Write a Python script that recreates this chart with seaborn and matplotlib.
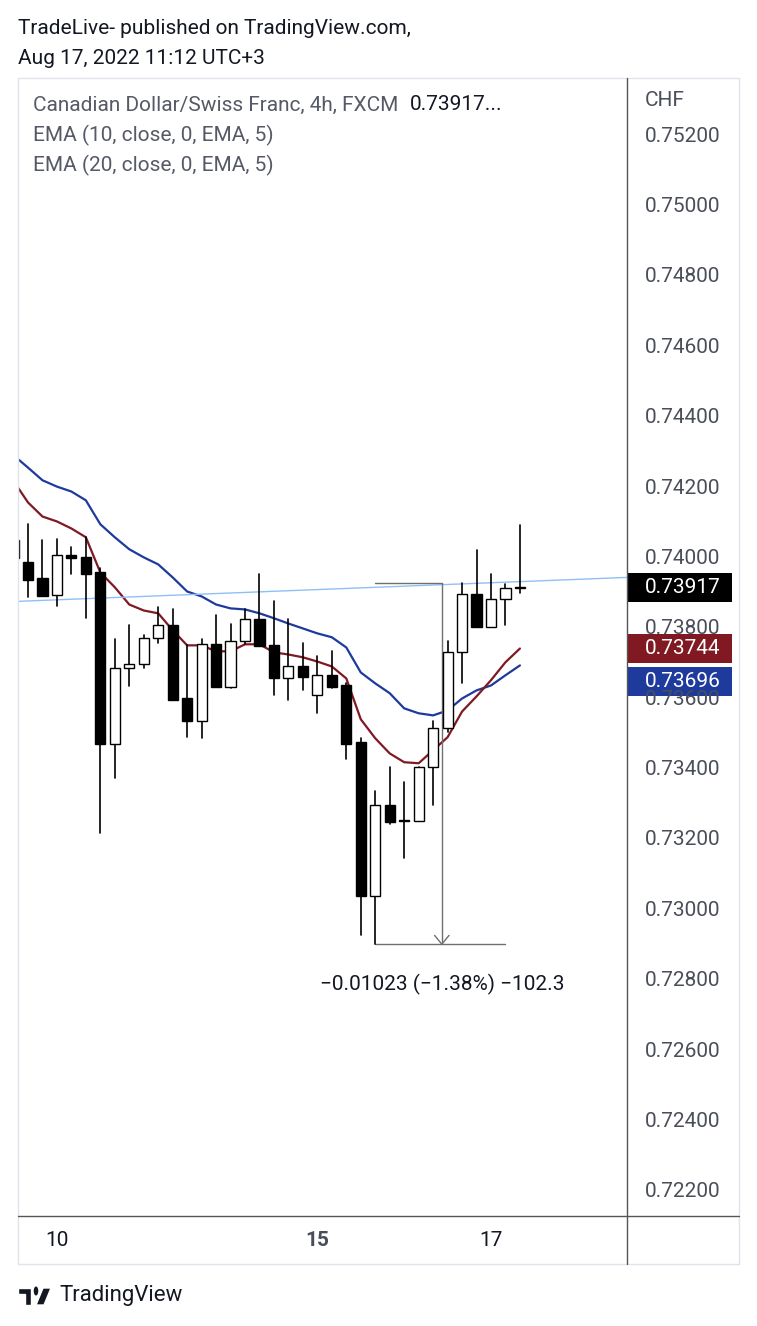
import numpy as np
import pandas as pd
import matplotlib
matplotlib.use("Agg")
import matplotlib.pyplot as plt
from matplotlib.lines import Line2D
from matplotlib.patches import Rectangle, Polygon, Circle
import seaborn as sns

sns.set_style("white")
plt.rcParams["font.family"] = "Roboto"

opens = [0.74051, 0.73991, 0.73943, 0.73895, 0.74011, 0.74003, 0.73960, 0.73472, 0.73688, 0.73699,
         0.73773, 0.73812, 0.73602, 0.73537, 0.73756, 0.73634, 0.73764, 0.73827, 0.73753, 0.73659,
         0.73693, 0.73611, 0.73668, 0.73639, 0.73477, 0.73040, 0.73299, 0.73256, 0.73253, 0.73406,
         0.73517, 0.73733, 0.73898, 0.73804, 0.73884, 0.73918]
highs = [0.74060, 0.74097, 0.74051, 0.74054, 0.74031, 0.74060, 0.73972, 0.73770, 0.73812, 0.73781,
         0.73861, 0.73855, 0.73753, 0.73770, 0.73838, 0.73815, 0.73855, 0.73955, 0.73878, 0.73827,
         0.73759, 0.73722, 0.73736, 0.73645, 0.73489, 0.73338, 0.73406, 0.73364, 0.73406, 0.73537,
         0.73764, 0.73929, 0.74023, 0.73955, 0.73926, 0.74094]
lows = [0.73989, 0.73889, 0.73892, 0.73864, 0.73957, 0.73832, 0.73219, 0.73375, 0.73638, 0.73688,
        0.73761, 0.73599, 0.73494, 0.73489, 0.73634, 0.73631, 0.73756, 0.73750, 0.73611, 0.73599,
        0.73625, 0.73562, 0.73631, 0.73429, 0.72931, 0.72905, 0.73245, 0.73148, 0.73253, 0.73299,
        0.73506, 0.73645, 0.73804, 0.73804, 0.73812, 0.73901]
closes = [0.74000, 0.73940, 0.73892, 0.74011, 0.74000, 0.73957, 0.73472, 0.73688, 0.73699, 0.73773,
          0.73812, 0.73599, 0.73537, 0.73756, 0.73634, 0.73764, 0.73827, 0.73750, 0.73659, 0.73693,
          0.73662, 0.73668, 0.73636, 0.73474, 0.73040, 0.73299, 0.73250, 0.73253, 0.73406, 0.73517,
          0.73733, 0.73898, 0.73804, 0.73884, 0.73915, 0.73915]
ema10 = [0.74220, 0.74159, 0.74119, 0.74105, 0.74085, 0.74060, 0.73960, 0.73918, 0.73869, 0.73852,
         0.73844, 0.73796, 0.73753, 0.73753, 0.73736, 0.73736, 0.73756, 0.73756, 0.73733, 0.73727,
         0.73719, 0.73707, 0.73693, 0.73659, 0.73543, 0.73489, 0.73446, 0.73421, 0.73418, 0.73455,
         0.73492, 0.73565, 0.73608, 0.73654, 0.73705, 0.73744]
ema20 = [0.74293, 0.74258, 0.74222, 0.74204, 0.74190, 0.74165, 0.74097, 0.74060, 0.74026, 0.74003,
         0.73983, 0.73946, 0.73906, 0.73892, 0.73869, 0.73858, 0.73855, 0.73844, 0.73830, 0.73815,
         0.73801, 0.73787, 0.73776, 0.73747, 0.73676, 0.73645, 0.73617, 0.73574, 0.73560, 0.73554,
         0.73568, 0.73602, 0.73625, 0.73639, 0.73668, 0.73696]
price_ticks = [0.722, 0.724, 0.726, 0.728, 0.730, 0.732, 0.734, 0.736, 0.738, 0.740,
               0.742, 0.744, 0.746, 0.748, 0.750, 0.752]
date_labels = ["10", "15", "17"]
date_pos = [3, 21, 33]
last_price, last_ema10, last_ema20 = 0.73917, 0.73744, 0.73696
trend_line = [(0.31, 0.73878), (42.4, 0.73946)]
measure_top, measure_bottom = 0.73929, 0.72904

W, H = 757, 1326
fig = plt.figure(figsize=(W / 100, H / 100), dpi=100)
ax = fig.add_axes([18 / W, 1 - 1216 / H, 609 / W, 1138 / H])
xmin, xmax = 0.31, 42.4
ymin, ymax = 0.721318, 0.753648
ax.set_xlim(xmin, xmax)
ax.set_ylim(ymin, ymax)

df = pd.DataFrame({"i": np.arange(len(opens)), "ema10": ema10, "ema20": ema20})
sns.lineplot(data=df, x="i", y="ema20", color="#1e3a9c", lw=1.6, ax=ax)
sns.lineplot(data=df, x="i", y="ema10", color="#801922", lw=1.6, ax=ax)

ax.plot([p[0] for p in trend_line], [p[1] for p in trend_line], color="#90bff5", lw=1)

bw = 0.7
for i, (o, h, l, c) in enumerate(zip(opens, highs, lows, closes)):
    ax.plot([i, i], [l, h], color="black", lw=1.2, zorder=3)
    lo, hi = min(o, c), max(o, c)
    ht = max(hi - lo, 0.00002)
    face = "white" if c > o else "black"
    ax.add_patch(Rectangle((i - bw / 2, lo), bw, ht, facecolor=face, edgecolor="black", lw=1, zorder=4))

mc = "#707070"
ax.plot([25, 29.6], [measure_top, measure_top], color=mc, lw=1)
ax.plot([29.6, 29.6], [measure_top, measure_bottom], color=mc, lw=1)
ax.plot([25, 34], [measure_bottom, measure_bottom], color=mc, lw=1)
ax.plot([29.1, 29.6, 30.1], [measure_bottom + 0.00025, measure_bottom, measure_bottom + 0.00025], color=mc, lw=1)
ax.text(29.6, measure_bottom - 0.00113, "−0.01023 (−1.38%) −102.3", ha="center", va="center", fontsize=15, color="#131722")

ax.set_xticks([]); ax.set_yticks([])
for s in ax.spines.values():
    s.set_visible(False)
ax.set_xlabel(""); ax.set_ylabel("")

fs = 15
lg = "#555a66"
fig.text(33 / W, 1 - 105 / H, "Canadian Dollar/Swiss Franc, 4h, FXCM", fontsize=fs, color=lg, va="center")
fig.text(410 / W, 1 - 105 / H, "0.73917...", fontsize=fs, color="#131722", va="center")
fig.text(33 / W, 1 - 135 / H, "EMA (10, close, 0, EMA, 5)", fontsize=fs, color=lg, va="center")
fig.text(33 / W, 1 - 165 / H, "EMA (20, close, 0, EMA, 5)", fontsize=fs, color=lg, va="center")

def ypix(p):
    return 1216 - (p - ymin) / (ymax - ymin) * 1138

for p in price_ticks:
    fig.text(683 / W, 1 - ypix(p) / H, f"{p:.5f}", fontsize=fs, color="#4a4e59", ha="center", va="center")
fig.text(645 / W, 1 - 101 / H, "CHF", fontsize=fs, color="#4a4e59", va="center")

label_pix = [ypix(last_price), ypix(last_ema10), ypix(last_ema10) + 33]
for val, col, yp in zip([last_price, last_ema10, last_ema20], ["black", "#801922", "#1e3a9c"], label_pix):
    fig.patches.append(Rectangle((627 / W, 1 - (yp + 14.5) / H), 105 / W, 29 / H, facecolor=col,
                                 edgecolor="none", transform=fig.transFigure, figure=fig))
    fig.text(683 / W, 1 - yp / H, f"{val:.5f}", fontsize=fs, color="white", ha="center", va="center")

def xpix(i):
    return 18 + (i - xmin) / (xmax - xmin) * 609

for lab, pos in zip(date_labels, date_pos):
    fig.text(xpix(pos) / W, 1 - 1240 / H, lab, fontsize=fs, color="#131722" if lab != "15" else "#4a4e59",
             ha="center", va="center", fontweight="bold" if lab == "15" else "normal")

fc = "#e0e3eb"
for (x0, y0, x1, y1, c) in [(18, 78, 739, 78, fc), (18, 1264, 739, 1264, fc), (18, 78, 18, 1264, fc),
                            (739, 78, 739, 1264, fc), (627, 78, 627, 1264, "#555555"),
                            (18, 1216, 739, 1216, "#555555")]:
    fig.lines.append(Line2D([x0 / W, x1 / W], [1 - y0 / H, 1 - y1 / H], color=c, lw=1, transform=fig.transFigure))

fig.text(18 / W, 1 - 28 / H, "TradeLive- published on TradingView.com,", fontsize=15, color="#131722", va="center")
fig.text(18 / W, 1 - 58 / H, "Aug 17, 2022 11:12 UTC+3", fontsize=15, color="#131722", va="center")

def fpt(x, y):
    return (x / W, 1 - y / H)
tf = fig.transFigure
fig.patches.append(Polygon([fpt(18, 1288), fpt(31, 1288), fpt(31, 1305), fpt(25, 1305), fpt(25, 1294), fpt(18, 1294)],
                           closed=True, facecolor="#131722", transform=tf, figure=fig))
fig.patches.append(Circle(fpt(36, 1291), 3 / W, facecolor="#131722", transform=tf, figure=fig))
fig.patches.append(Polygon([fpt(43, 1288), fpt(51, 1288), fpt(44, 1305), fpt(36, 1305)],
                           closed=True, facecolor="#131722", transform=tf, figure=fig))
fig.text(59 / W, 1 - 1296 / H, "TradingView", fontsize=16, color="#131722", va="center")

fig.savefig("out.png", dpi=100, facecolor="white")
